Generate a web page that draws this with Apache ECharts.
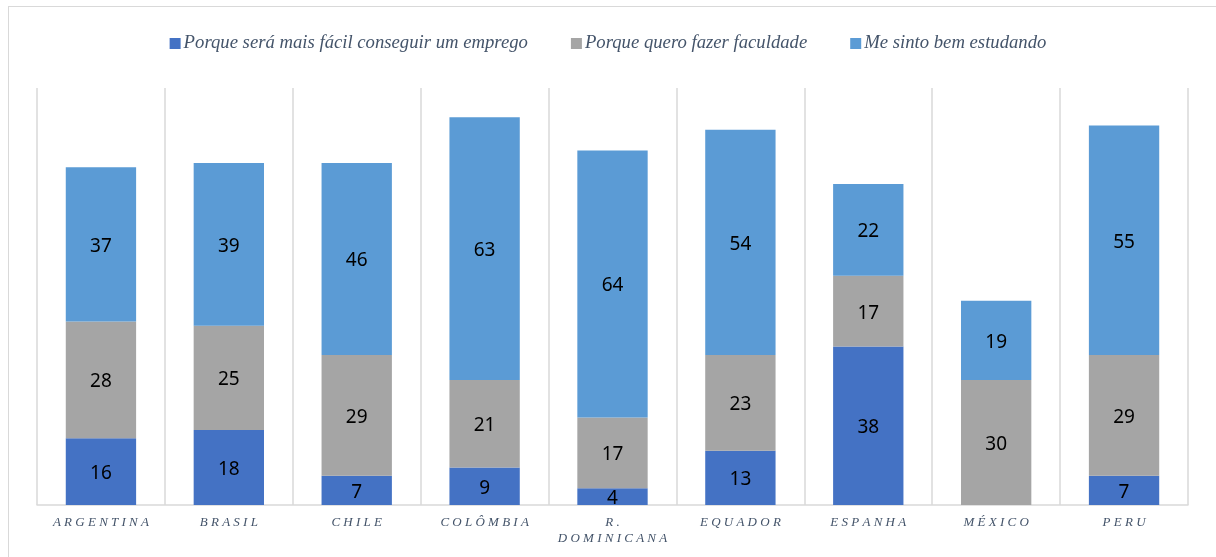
<!DOCTYPE html>
<html>
<head>
<meta charset="utf-8">
<script src="https://cdn.jsdelivr.net/npm/echarts@6/dist/echarts.min.js"></script>
<style>
  html, body { margin: 0; padding: 0; background: #fff; }
  #frame { position: absolute; left: 8px; top: 6px; width: 1230px; height: 580px; border: 1.5px solid #d9d9d9; box-sizing: border-box; }
  #chart { position: absolute; left: 0; top: 0; width: 1216px; height: 557px; }
</style>
</head>
<body>
<div id="frame"></div>
<div id="chart"></div>
<script>
const countries = ['ARGENTINA', 'BRASIL', 'CHILE', 'COLÔMBIA', 'R.\nDOMINICANA', 'EQUADOR', 'ESPANHA', 'MÉXICO', 'PERU']
const seriesNames = [
  'Porque será mais fácil conseguir um emprego',
  'Porque quero fazer faculdade',
  'Me sinto bem estudando',
]
const emprego = [16, 18, 7, 9, 4, 13, 38, 0, 7]
const faculdade = [28, 25, 29, 21, 17, 23, 17, 30, 29]
const estudando = [37, 39, 46, 63, 64, 54, 22, 19, 55]
const colors = ['#4472c4', '#a5a5a5', '#5b9bd5']

// spread the letters like the original's letter-spaced labels
const spaced = (s) => s.split('\n').map((line) => line.split('').join(' ')).join('\n')

const chart = echarts.init(document.getElementById('chart'))

const makeSeries = (name, data, i) => ({
  name,
  type: 'bar',
  stack: 'total',
  data,
  barWidth: '55%',
  itemStyle: { color: colors[i] },
  label: {
    show: true,
    position: 'inside',
    color: '#000',
    fontFamily: 'Noto Sans',
    fontSize: 19,
    offset: [0, 2],
    formatter: (p) => (p.value ? p.value : ''),
  },
})

chart.setOption({
  animation: false,
  backgroundColor: 'transparent',
  color: colors,
  legend: {
    top: 29,
    left: 'center',
    itemWidth: 11,
    itemHeight: 11,
    itemGap: 43,
    icon: 'rect',
    textStyle: {
      fontFamily: 'Liberation Serif',
      fontStyle: 'italic',
      fontSize: 18.7,
      color: '#44546a',
      padding: [0, 0, 0, -2],
    },
    data: seriesNames,
  },
  grid: { left: 37, right: 28, top: 88, bottom: 52 },
  xAxis: {
    type: 'category',
    data: countries,
    axisLine: { lineStyle: { color: '#d9d9d9', width: 1.5 } },
    axisTick: { show: false },
    splitLine: { show: true, interval: 0, lineStyle: { color: '#d9d9d9', width: 1.5 } },
    axisLabel: {
      interval: 0,
      formatter: spaced,
      fontFamily: 'Liberation Serif',
      fontStyle: 'italic',
      fontSize: 13,
      color: '#44546a',
      margin: 10,
      lineHeight: 16,
    },
  },
  yAxis: {
    type: 'value',
    min: 0,
    max: 100,
    show: false,
    splitLine: { show: false },
  },
  series: [
    makeSeries(seriesNames[0], emprego, 0),
    makeSeries(seriesNames[1], faculdade, 1),
    makeSeries(seriesNames[2], estudando, 2),
  ],
})
</script>
</body>
</html>
